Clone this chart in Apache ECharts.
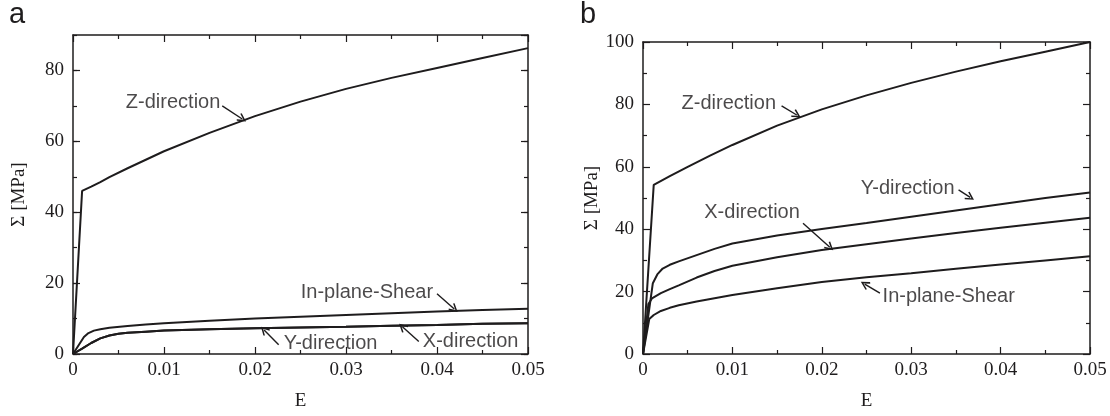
<!DOCTYPE html>
<html>
<head>
<meta charset="utf-8">
<script src="https://cdn.jsdelivr.net/npm/echarts@6.0.0/dist/echarts.min.js"></script>
<style>
  html, body { margin: 0; padding: 0; background: #fff; }
  #chart { width: 1110px; height: 416px; }
</style>
</head>
<body>
<div id="chart"></div>
<script>
// strain E vs stress Σ [MPa]
const zDirA = [[0,0],[0.001,46.0],[0.002,47.2],[0.003,48.5],[0.004,49.9],[0.006,52.4],[0.008,54.8],[0.01,57.2],[0.015,62.4],[0.02,67.1],[0.025,71.2],[0.03,74.8],[0.035,77.9],[0.04,80.7],[0.045,83.5],[0.05,86.3]];
const shearA = [[0,0],[0.0012,4.8],[0.0017,5.9],[0.0023,6.6],[0.003,7.0],[0.004,7.4],[0.006,7.9],[0.008,8.3],[0.01,8.7],[0.015,9.4],[0.02,10.0],[0.025,10.5],[0.03,11.0],[0.035,11.5],[0.04,12.0],[0.045,12.4],[0.05,12.8]];
const yDirA = [[0,0],[0.001,1.5],[0.002,3.1],[0.003,4.4],[0.004,5.2],[0.005,5.7],[0.006,6.0],[0.008,6.3],[0.01,6.6],[0.015,7.0],[0.02,7.3],[0.025,7.5],[0.03,7.7],[0.035,8.0],[0.04,8.2],[0.045,8.5],[0.05,8.7]];
const xDirA = [[0,0],[0.001,1.5],[0.002,3.1],[0.003,4.4],[0.004,5.2],[0.005,5.7],[0.006,6.0],[0.008,6.3],[0.01,6.6],[0.015,7.0],[0.02,7.3],[0.025,7.5],[0.03,7.7],[0.035,8.0],[0.04,8.2],[0.045,8.5],[0.05,8.7]];

const zDirB = [[0,0],[0.0012,54.2],[0.003,57.0],[0.005,60.0],[0.0075,63.6],[0.01,67.0],[0.015,73.2],[0.02,78.4],[0.025,82.9],[0.03,86.9],[0.035,90.5],[0.04,93.8],[0.045,96.9],[0.05,100]];
const yDirB = [[0,0],[0.0011,22.7],[0.0016,25.5],[0.0022,27.4],[0.003,28.6],[0.004,29.7],[0.006,31.7],[0.008,33.7],[0.01,35.4],[0.015,38.0],[0.02,40.1],[0.025,42.0],[0.03,44.0],[0.035,46.0],[0.04,48.0],[0.045,50.0],[0.05,51.8]];
const xDirB = [[0,0],[0.0006,16.0],[0.001,17.8],[0.002,19.5],[0.003,20.8],[0.004,22.0],[0.006,24.5],[0.008,26.6],[0.01,28.3],[0.015,31.0],[0.02,33.3],[0.025,35.2],[0.03,37.0],[0.035,38.8],[0.04,40.5],[0.045,42.1],[0.05,43.7]];
const shearB = [[0,0],[0.0007,11.2],[0.0012,12.5],[0.002,13.8],[0.003,14.8],[0.004,15.6],[0.006,16.8],[0.008,17.9],[0.01,18.9],[0.015,21.1],[0.02,23.1],[0.025,24.6],[0.03,25.9],[0.035,27.3],[0.04,28.7],[0.045,30.0],[0.05,31.3]];

const xTicks = [0, 0.05, 0.01];   // min, max, step
const yTicksA = [0, 90, 20];
const yTicksB = [0, 100, 20];

// annotation text position + arrow (tail -> head), in data units
const notesA = [
  { text: 'Z-direction',    at: [0.0110, 71.0], from: [0.0164, 70.0], to: [0.0186, 66.3] },
  { text: 'In-plane-Shear', at: [0.0323, 17.4], from: [0.0400, 17.0], to: [0.0419, 12.7] },
  { text: 'Y-direction',    at: [0.0283, 3.0],  from: [0.0226, 2.6],  to: [0.0210, 6.8] },
  { text: 'X-direction',    at: [0.0437, 3.5],  from: [0.0380, 3.5],  to: [0.0362, 7.7] }
];
const notesB = [
  { text: 'Z-direction',    at: [0.0096, 80.4], from: [0.0155, 79.5], to: [0.0172, 76.6] },
  { text: 'Y-direction',    at: [0.0296, 53.1], from: [0.0353, 52.6], to: [0.0366, 50.2] },
  { text: 'X-direction',    at: [0.0122, 45.3], from: [0.0179, 41.9], to: [0.0209, 34.2] },
  { text: 'In-plane-Shear', at: [0.0342, 18.4], from: [0.0265, 19.5], to: [0.0248, 22.4] }
];

const INK = '#1e1c1d';
const SERIF = 'Liberation Serif';
const SANS = 'Liberation Sans';
const ARROW = 'path://M5,0 L10,9 L8.6,10 L5,3.4 L1.4,10 L0,9 Z';
const TICK = { color: INK, width: 1.2 };
const MAJOR = 7, MINOR = 4;
// onZero off, otherwise the top/right axes jump onto the zero line
const BORDER = { show: true, onZero: false, lineStyle: { color: INK, width: 1.5 } };
const HIDDEN = { show: false, onZero: false };

function xAxes(grid) {
  const base = {
    type: 'value', gridIndex: grid, min: xTicks[0], max: xTicks[1], interval: xTicks[2],
    axisLine: BORDER,
    axisTick: { show: true, inside: true, length: MAJOR, lineStyle: TICK },
    minorTick: { show: true, splitNumber: 2, length: MINOR, lineStyle: TICK },
    splitLine: { show: false }
  };
  return [
    Object.assign({}, base, {
      position: 'bottom', name: 'E', nameLocation: 'middle', nameGap: 38,
      nameTextStyle: { fontFamily: SERIF, fontSize: 19, color: INK },
      axisLabel: { fontFamily: SERIF, fontSize: 19, color: INK, margin: 7 }
    }),
    Object.assign({}, base, { position: 'top', axisLabel: { show: false } })
  ];
}

function yAxes(grid, ticks, nameGap) {
  const splitMinor = ticks[1] % ticks[2] !== 0;
  const base = {
    type: 'value', gridIndex: grid, min: ticks[0], max: ticks[1], interval: ticks[2],
    axisLine: BORDER,
    axisTick: { show: true, inside: true, length: MAJOR, lineStyle: TICK },
    minorTick: { show: !splitMinor, splitNumber: 2, length: MINOR, lineStyle: TICK },
    splitLine: { show: false }
  };
  const axes = [
    Object.assign({}, base, {
      position: 'left', name: 'Σ [MPa]', nameLocation: 'middle', nameGap: nameGap,
      nameTextStyle: { fontFamily: SERIF, fontSize: 19, color: INK },
      axisLabel: { fontFamily: SERIF, fontSize: 19, color: INK, margin: 9, showMaxLabel: !splitMinor }
    }),
    Object.assign({}, base, { position: 'right', axisLabel: { show: false } })
  ];
  if (splitMinor) {
    // max is not a multiple of the step: short ticks on their own axes
    ['left', 'right'].forEach(pos => {
      axes.push({
        type: 'value', gridIndex: grid, min: ticks[0], max: ticks[1], interval: ticks[2] / 2,
        position: pos, axisLine: HIDDEN, axisLabel: { show: false }, splitLine: { show: false },
        axisTick: { show: true, inside: true, length: MINOR, lineStyle: TICK }
      });
    });
  }
  return axes;
}

function curve(name, data, xi, yi) {
  return {
    type: 'line', name: name, data: data, xAxisIndex: xi, yAxisIndex: yi,
    showSymbol: false, symbol: 'none', smooth: false, silent: true,
    lineStyle: { color: INK, width: 2 }
  };
}

function notes(list, xi, yi) {
  return {
    type: 'scatter', xAxisIndex: xi, yAxisIndex: yi, silent: true,
    symbolSize: 1, itemStyle: { color: 'rgba(0,0,0,0)' },
    data: list.map(n => ({ name: n.text, value: n.at })),
    label: { show: true, position: 'inside', formatter: '{b}', fontFamily: SANS, fontSize: 20, color: INK, textBorderWidth: 0 },
    markLine: {
      silent: true, animation: false,
      symbol: ['none', ARROW], symbolSize: [9, 9],
      label: { show: false },
      lineStyle: { color: INK, width: 1.4, type: 'solid' },
      emphasis: { disabled: true },
      data: list.map(n => [{ coord: n.from }, { coord: n.to }])
    }
  };
}

const xAxisA = xAxes(0), yAxisA = yAxes(0, yTicksA, 44);
const xAxisB = xAxes(1), yAxisB = yAxes(1, yTicksB, 41);
const xb = xAxisA.length, yb = yAxisA.length;

const chart = echarts.init(document.getElementById('chart'));
chart.setOption({
  animation: false,
  backgroundColor: '#fff',
  title: [
    { text: 'a', left: 4, top: -5, textStyle: { fontFamily: SANS, fontSize: 29, fontWeight: 'normal', color: INK } },
    { text: 'b', left: 575, top: -5, textStyle: { fontFamily: SANS, fontSize: 29, fontWeight: 'normal', color: INK } }
  ],
  grid: [
    { left: 73, top: 35, width: 455, height: 319 },
    { left: 643, top: 42, width: 447, height: 312 }
  ],
  xAxis: xAxisA.concat(xAxisB),
  yAxis: yAxisA.concat(yAxisB),
  series: [
    curve('Z-direction', zDirA, 0, 0),
    curve('In-plane-Shear', shearA, 0, 0),
    curve('Y-direction', yDirA, 0, 0),
    curve('X-direction', xDirA, 0, 0),
    notes(notesA, 0, 0),
    curve('Z-direction', zDirB, xb, yb),
    curve('Y-direction', yDirB, xb, yb),
    curve('X-direction', xDirB, xb, yb),
    curve('In-plane-Shear', shearB, xb, yb),
    notes(notesB, xb, yb)
  ]
});
</script>
</body>
</html>
